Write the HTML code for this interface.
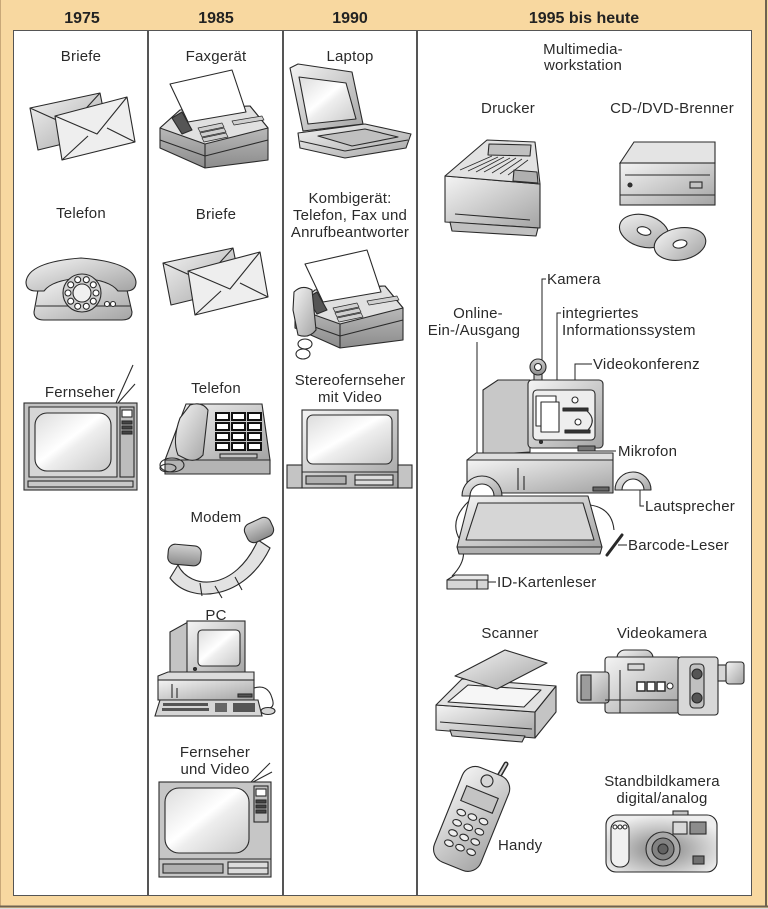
<!DOCTYPE html>
<html><head><meta charset="utf-8"><style>
html,body{margin:0;padding:0;background:#fff;}
svg{display:block;}
.t{font-family:"Liberation Sans",Arial,sans-serif;font-size:15px;fill:#2a2a2a;letter-spacing:0.2px;}
.h{font-family:"Liberation Sans",Arial,sans-serif;font-size:16px;font-weight:bold;fill:#222;}
</style></head><body>
<svg width="768" height="909" viewBox="0 0 768 909" xmlns="http://www.w3.org/2000/svg">
<defs>
<linearGradient id="m" x1="0" y1="0" x2="1" y2="1"><stop offset="0" stop-color="#f4f4f4"/><stop offset="1" stop-color="#a4a4a4"/></linearGradient>
<linearGradient id="d" x1="0" y1="0" x2="0" y2="1"><stop offset="0" stop-color="#d0d0d0"/><stop offset="1" stop-color="#8c8c8c"/></linearGradient>
<linearGradient id="sc" x1="0" y1="0" x2="1" y2="1"><stop offset="0" stop-color="#dcdcdc"/><stop offset=".45" stop-color="#fff"/><stop offset=".55" stop-color="#eeeeee"/><stop offset="1" stop-color="#c8c8c8"/></linearGradient>
<radialGradient id="cam" cx=".5" cy=".6" r=".6"><stop offset="0" stop-color="#808080"/><stop offset=".6" stop-color="#c4c4c4"/><stop offset="1" stop-color="#eeeeee"/></radialGradient>
</defs>

<!-- frame -->
<rect x="0" y="0" width="768" height="909" fill="#f8d8a0"/>
<line x1="0.5" y1="0" x2="0.5" y2="907" stroke="#c9a878" stroke-width="1"/>
<line x1="766" y1="0" x2="766" y2="907" stroke="#6e6250" stroke-width="2"/>
<line x1="0" y1="906.5" x2="768" y2="906.5" stroke="#6e6250" stroke-width="2"/>
<rect x="0" y="908" width="768" height="1" fill="#ddd"/>
<rect x="13.5" y="30.5" width="738" height="865" fill="#fff" stroke="#555" stroke-width="1"/>
<line x1="148" y1="30" x2="148" y2="896" stroke="#555" stroke-width="2"/>
<line x1="283" y1="30" x2="283" y2="896" stroke="#555" stroke-width="2"/>
<line x1="417" y1="30" x2="417" y2="896" stroke="#555" stroke-width="2"/>

<!-- headers -->
<text class="h" x="82" y="23" text-anchor="middle">1975</text>
<text class="h" x="216" y="23" text-anchor="middle">1985</text>
<text class="h" x="350" y="23" text-anchor="middle">1990</text>
<text class="h" x="584" y="23" text-anchor="middle">1995 bis heute</text>

<!-- labels -->
<text class="t" x="81" y="61" text-anchor="middle">Briefe</text>
<text class="t" x="81" y="218" text-anchor="middle">Telefon</text>
<text class="t" x="80" y="397" text-anchor="middle">Fernseher</text>

<text class="t" x="216" y="61" text-anchor="middle">Faxgerät</text>
<text class="t" x="216" y="219" text-anchor="middle">Briefe</text>
<text class="t" x="216" y="393" text-anchor="middle">Telefon</text>
<text class="t" x="216" y="522" text-anchor="middle">Modem</text>
<text class="t" x="216" y="620" text-anchor="middle">PC</text>
<text class="t" x="215" y="757" text-anchor="middle">Fernseher</text>
<text class="t" x="215" y="774" text-anchor="middle">und Video</text>

<text class="t" x="350" y="61" text-anchor="middle">Laptop</text>
<text class="t" x="350" y="203" text-anchor="middle">Kombigerät:</text>
<text class="t" x="350" y="220" text-anchor="middle">Telefon, Fax und</text>
<text class="t" x="350" y="237" text-anchor="middle">Anrufbeantworter</text>
<text class="t" x="350" y="385" text-anchor="middle">Stereofernseher</text>
<text class="t" x="350" y="402" text-anchor="middle">mit Video</text>

<text class="t" x="583" y="54" text-anchor="middle">Multimedia-</text>
<text class="t" x="583" y="70" text-anchor="middle">workstation</text>
<text class="t" x="508" y="113" text-anchor="middle">Drucker</text>
<text class="t" x="672" y="113" text-anchor="middle">CD-/DVD-Brenner</text>

<text class="t" x="547" y="284">Kamera</text>
<text class="t" x="478" y="318" text-anchor="middle">Online-</text>
<text class="t" x="474" y="335" text-anchor="middle">Ein-/Ausgang</text>
<text class="t" x="562" y="318">integriertes</text>
<text class="t" x="562" y="335">Informationssystem</text>
<text class="t" x="593" y="369">Videokonferenz</text>
<text class="t" x="618" y="456">Mikrofon</text>
<text class="t" x="645" y="511">Lautsprecher</text>
<text class="t" x="628" y="550">Barcode-Leser</text>
<text class="t" x="497" y="587">ID-Kartenleser</text>

<text class="t" x="510" y="638" text-anchor="middle">Scanner</text>
<text class="t" x="662" y="638" text-anchor="middle">Videokamera</text>
<text class="t" x="662" y="786" text-anchor="middle">Standbildkamera</text>
<text class="t" x="662" y="803" text-anchor="middle">digital/analog</text>
<text class="t" x="498" y="850">Handy</text>

<!-- leader lines -->
<g stroke="#222" stroke-width="1" fill="none">
<path d="M546,279 L542,279 L542,360"/>
<path d="M477,342 L477,455"/>
<path d="M561,313 L557,313 L557,408"/>
<path d="M592,364 L575,364 L575,393"/>
<path d="M595,451 L616,451"/>
<path d="M640,490 L640,506 L644,506"/>
<path d="M618,545 L627,545"/>
<path d="M488,582 L496,582"/>
</g>

<!-- envelopes col1 -->
<g id="env" stroke="#2a2a2a" stroke-width="1.1" stroke-linejoin="round">
<polygon fill="url(#m)" points="30,108 100,93 108,133 38,150"/>
<polyline fill="none" points="30,108 70,126 100,93"/>
<polygon fill="#eeeeee" points="55,116 127,97 135,142 62,160"/>
<polyline fill="none" points="55,116 97,134 127,97"/>
<line x1="62" y1="160" x2="88" y2="136"/>
<line x1="135" y1="142" x2="107" y2="128"/>
</g>
<use href="#env" transform="translate(133,155)"/>

<!-- rotary phone col1 -->
<g stroke="#2a2a2a" stroke-width="1.1">
<path fill="url(#m)" d="M38,290 Q40,280 58,279 L108,279 Q124,280 127,290 L132,312 Q132,320 122,320 L44,320 Q34,320 34,312 Z"/>
<path fill="none" d="M36,306 L130,306"/>
<path fill="url(#m)" d="M26,282 Q28,262 81,258 Q134,262 136,282 Q136,291 126,291 L118,291 Q110,280 81,278 Q52,280 44,291 L36,291 Q26,291 26,282 Z"/>
<circle cx="82" cy="293" r="19" fill="#cfcfcf"/>
<circle cx="82" cy="293" r="9" fill="#f0f0f0"/>
<g fill="#fff">
<circle cx="96" cy="293" r="3"/><circle cx="93.3" cy="301.2" r="3"/><circle cx="86.3" cy="306.3" r="3"/><circle cx="77.7" cy="306.3" r="3"/><circle cx="70.7" cy="301.2" r="3"/><circle cx="68" cy="293" r="3"/><circle cx="70.7" cy="284.8" r="3"/><circle cx="77.7" cy="279.7" r="3"/><circle cx="86.3" cy="279.7" r="3"/><circle cx="93.3" cy="284.8" r="3"/>
<circle cx="107" cy="304" r="2.5"/><circle cx="113" cy="304" r="2.5"/>
</g>
</g>

<!-- TV col1 -->
<g stroke="#2a2a2a" stroke-width="1.1">
<line x1="116" y1="403" x2="133" y2="365"/>
<line x1="118" y1="403" x2="135" y2="384"/>
<rect x="24" y="403" width="113" height="87" fill="#c2c2c2"/>
<polygon fill="#d6d6d6" points="29,407 117,407 117,477 29,477"/>
<rect x="35" y="413" width="76" height="58" rx="12" fill="url(#sc)"/>
<rect x="120" y="407" width="14" height="70" fill="#bdbdbd"/>
<rect x="122" y="410" width="10" height="7" fill="#fff"/>
<rect x="122" y="421" width="10" height="3" fill="#444"/>
<rect x="122" y="426" width="10" height="3" fill="#444"/>
<rect x="122" y="431" width="10" height="3" fill="#444"/>
<rect x="28" y="481" width="105" height="6" fill="#c8c8c8"/>
</g>

<!-- fax col2 -->
<g id="fax" stroke="#2a2a2a" stroke-width="1.1" stroke-linejoin="round">
<polygon fill="url(#d)" points="160,128 180,110 250,106 268,128 268,160 205,168 160,148"/>
<polygon fill="#e0e0e0" points="160,128 180,110 250,106 268,128 205,144"/>
<line x1="205" y1="144" x2="205" y2="168"/>
<polyline fill="none" points="160,140 205,156 268,140"/>
<polygon fill="#555" points="172,118 182,112 192,130 182,134"/>
<polygon fill="#fff" points="170,84 232,70 246,112 188,122"/>
<g fill="#cfcfcf" stroke-width=".7">
<polygon points="198,128 222,123 224,127 200,132"/>
<polygon points="200,133 224,128 226,132 202,137"/>
<polygon points="202,138 226,133 228,137 204,142"/>
<polygon points="232,121 262,116 264,120 234,125"/>
</g>
</g>

<!-- phone col2 -->
<g stroke="#2a2a2a" stroke-width="1.1">
<polygon fill="url(#m)" points="186,404 262,404 270,460 165,460"/>
<polygon fill="#b4b4b4" points="165,460 270,460 270,474 165,474"/>
<g fill="#fff" stroke="#111" stroke-width="2">
<rect x="216" y="413" width="13" height="7"/><rect x="232" y="413" width="13" height="7"/><rect x="248" y="413" width="13" height="7"/>
<rect x="216" y="423" width="13" height="7"/><rect x="232" y="423" width="13" height="7"/><rect x="248" y="423" width="13" height="7"/>
<rect x="216" y="433" width="13" height="7"/><rect x="232" y="433" width="13" height="7"/><rect x="248" y="433" width="13" height="7"/>
<rect x="216" y="443" width="13" height="7"/><rect x="232" y="443" width="13" height="7"/><rect x="248" y="443" width="13" height="7"/>
</g>
<rect x="220" y="454" width="37" height="4" fill="#c4c4c4"/>
<path fill="url(#m)" d="M190,405 Q202,401 208,410 L203,455 Q196,463 186,459 L178,455 Q172,440 180,418 Z"/>
<ellipse cx="172" cy="465" rx="12" ry="7" fill="none"/>
<ellipse cx="168" cy="468" rx="8" ry="4" fill="none"/>
</g>

<!-- modem col2 -->
<g stroke="#2a2a2a" stroke-width="1.1">
<path fill="#e2e2e2" d="M178,565 C190,590 235,592 258,540 L270,548 C245,600 190,605 170,578 Z"/>
<path fill="none" d="M215,586 L222,598 M200,583 L202,596 M235,577 L242,590"/>
<rect x="168" y="545" width="33" height="20" rx="7" fill="url(#d)" transform="rotate(5 184 555)"/>
<rect x="245" y="520" width="28" height="20" rx="7" fill="url(#d)" transform="rotate(-25 259 530)"/>
</g>

<!-- PC col2 -->
<g stroke="#2a2a2a" stroke-width="1.1">
<polygon fill="#c4c4c4" points="170,632 188,622 188,675 170,677"/>
<rect x="187" y="621" width="58" height="53" fill="url(#m)"/>
<rect x="198" y="630" width="42" height="36" rx="4" fill="url(#sc)"/>
<circle cx="195" cy="669" r="1.5" fill="#333"/>
<polygon fill="#dcdcdc" points="158,676 168,672 254,672 254,680 158,681"/>
<rect x="158" y="680" width="96" height="20" fill="url(#m)"/>
<line x1="172" y1="684" x2="172" y2="698"/><line x1="177" y1="688" x2="177" y2="698"/>
<rect x="238" y="694" width="14" height="3" fill="#555"/>
<polygon fill="#d6d6d6" points="160,700 258,700 262,716 155,716"/>
<rect x="163" y="703" width="45" height="3" fill="#555" stroke="none"/>
<rect x="162" y="708" width="47" height="3" fill="#555" stroke="none"/>
<rect x="215" y="703" width="12" height="9" fill="#666" stroke="none"/>
<rect x="233" y="703" width="22" height="9" fill="#555" stroke="none"/>
<path fill="none" d="M254,688 Q268,684 272,698 Q275,706 270,708"/>
<ellipse cx="268" cy="711" rx="7" ry="3.5" fill="#d6d6d6"/>
</g>

<!-- TV col2 -->
<g stroke="#2a2a2a" stroke-width="1.1">
<line x1="251" y1="782" x2="270" y2="763"/>
<line x1="253" y1="782" x2="272" y2="772"/>
<rect x="159" y="782" width="112" height="95" fill="#c6c6c6"/>
<rect x="165" y="788" width="84" height="65" rx="14" fill="url(#sc)"/>
<rect x="254" y="786" width="14" height="36" fill="#bdbdbd"/>
<rect x="256" y="789" width="10" height="7" fill="#fff"/>
<rect x="256" y="800" width="10" height="3" fill="#444"/>
<rect x="256" y="805" width="10" height="3" fill="#444"/>
<rect x="256" y="810" width="10" height="3" fill="#444"/>
<line x1="159" y1="859" x2="271" y2="859"/>
<rect x="163" y="864" width="60" height="9" fill="#b0b0b0"/>
<rect x="228" y="862" width="40" height="12" fill="#dcdcdc"/>
<line x1="228" y1="868" x2="268" y2="868"/>
</g>

<!-- laptop col3 -->
<g stroke="#2a2a2a" stroke-width="1.1" stroke-linejoin="round">
<polygon fill="url(#m)" points="290,68 298,64 352,72 363,124 303,131"/>
<polygon fill="url(#sc)" points="299,77 346,83 356,119 308,124"/>
<polygon fill="url(#m)" points="298,133 365,124 411,134 406,148 345,158 300,148"/>
<polygon fill="#c0c0c0" points="318,136 365,129 398,137 352,146"/>
<line x1="300" y1="141" x2="345" y2="151"/>
<line x1="345" y1="151" x2="408" y2="140"/>
</g>

<!-- kombi col3 -->
<use href="#fax" transform="translate(135,180)"/>
<g stroke="#2a2a2a" stroke-width="1.1">
<path fill="url(#m)" d="M294,292 Q302,284 312,290 L316,330 Q309,339 298,335 L293,310 Z"/>
<ellipse cx="305" cy="344" rx="7" ry="5" fill="none"/>
<ellipse cx="303" cy="354" rx="7" ry="5" fill="none"/>
</g>

<!-- stereo TV col3 -->
<g stroke="#2a2a2a" stroke-width="1.1">
<rect x="302" y="410" width="96" height="78" fill="url(#m)"/>
<rect x="307" y="415" width="85" height="49" rx="6" fill="url(#sc)"/>
<rect x="287" y="465" width="15" height="23" fill="#c4c4c4"/>
<rect x="398" y="465" width="14" height="23" fill="#c4c4c4"/>
<line x1="302" y1="472" x2="398" y2="472"/>
<rect x="306" y="476" width="40" height="8" fill="#b0b0b0"/>
<rect x="355" y="475" width="38" height="10" fill="#dcdcdc"/>
<line x1="355" y1="480" x2="393" y2="480"/>
</g>

<!-- printer -->
<g stroke="#2a2a2a" stroke-width="1.1" stroke-linejoin="round">
<polygon fill="url(#m)" points="445,176 540,184 540,228 445,222"/>
<polygon fill="#e2e2e2" points="445,176 487,140 535,142 540,184"/>
<polygon fill="#c0c0c0" points="489,144 531,145 530,156 488,155"/>
<g fill="none" stroke-width=".8">
<line x1="460" y1="170" x2="492" y2="156"/><line x1="468" y1="171" x2="498" y2="157"/><line x1="476" y1="172" x2="504" y2="157"/><line x1="484" y1="172" x2="510" y2="158"/><line x1="492" y1="173" x2="516" y2="158"/><line x1="500" y1="174" x2="522" y2="159"/><line x1="508" y1="175" x2="528" y2="160"/>
</g>
<polygon fill="#b0b0b0" points="514,170 537,172 538,183 513,181"/>
<polygon fill="#c0c0c0" points="450,222 538,228 536,236 452,231"/>
<line x1="455" y1="214" x2="530" y2="220"/>
</g>

<!-- CD burner -->
<g stroke="#2a2a2a" stroke-width="1.1">
<polygon fill="#e4e4e4" points="620,163 634,142 715,142 715,163"/>
<rect x="620" y="163" width="95" height="42" fill="url(#m)"/>
<line x1="625" y1="175" x2="710" y2="175"/>
<line x1="620" y1="195" x2="715" y2="195"/>
<rect x="690" y="182" width="12" height="6" fill="#c4c4c4"/>
<circle cx="630" cy="185" r="2" fill="#333"/>
<ellipse cx="644" cy="231" rx="25" ry="16" fill="url(#m)" transform="rotate(15 644 231)"/>
<ellipse cx="644" cy="231" rx="7" ry="4" fill="#fff" transform="rotate(15 644 231)"/>
<ellipse cx="680" cy="244" rx="26" ry="16" fill="url(#m)" transform="rotate(-10 680 244)"/>
<ellipse cx="680" cy="244" rx="7" ry="4" fill="#fff" transform="rotate(-10 680 244)"/>
</g>

<!-- workstation -->
<g stroke="#2a2a2a" stroke-width="1.1" stroke-linejoin="round">
<path fill="none" d="M470,500 Q448,520 460,540 Q470,558 452,576"/>
<path fill="none" d="M590,505 Q612,508 614,530"/>
<polygon fill="#c8c8c8" points="483,390 498,380 530,380 530,452 483,455"/>
<rect x="528" y="380" width="75" height="68" rx="4" fill="url(#m)"/>
<rect x="533" y="390" width="62" height="50" rx="4" fill="#eeeeee"/>
<rect x="536" y="396" width="20" height="30" fill="#fff"/>
<rect x="541" y="402" width="18" height="30" fill="#fff"/>
<rect x="563" y="408" width="25" height="3" fill="#333"/>
<rect x="565" y="430" width="25" height="3" fill="#333"/>
<circle cx="575" cy="400" r="3" fill="#fff"/>
<circle cx="578" cy="422" r="3" fill="#fff"/>
<path fill="none" d="M587,411 Q597,420 588,430"/>
<circle cx="541" cy="442" r="1.5" fill="#333"/>
<rect x="578" y="446" width="17" height="5" fill="#777"/>
<rect x="534" y="373" width="8" height="7" fill="#c4c4c4"/>
<circle cx="538" cy="367" r="8" fill="url(#d)"/>
<circle cx="538" cy="367" r="3.5" fill="#fff"/>
<polygon fill="#dedede" points="467,460 476,453 613,453 613,460"/>
<rect x="467" y="460" width="146" height="33" fill="url(#m)"/>
<line x1="518" y1="468" x2="518" y2="490"/>
<line x1="524" y1="476" x2="524" y2="490"/>
<rect x="593" y="487" width="16" height="4" fill="#666"/>
<path fill="url(#m)" d="M462,496 A20,20 0 0 1 502,496 Z"/>
<path fill="#fff" d="M470,496 A12,12 0 0 1 494,496 Z"/>
<path fill="url(#m)" d="M615,490 A18,18 0 0 1 651,490 Z"/>
<path fill="#fff" d="M622,490 A11,11 0 0 1 644,490 Z"/>
<polygon fill="url(#m)" points="470,496 588,496 602,547 457,547"/>
<polygon fill="#d6d6d6" points="478,503 583,503 594,540 466,540"/>
<polygon fill="#b0b0b0" points="457,547 602,547 600,554 459,554"/>
<polygon fill="#e8e8e8" points="447,580 455,575 488,575 488,580"/>
<rect x="447" y="580" width="41" height="9" fill="#d6d6d6"/>
<line x1="477" y1="580" x2="477" y2="589"/>
<line x1="607" y1="555" x2="622" y2="535" stroke-width="3" stroke-linecap="round"/>
</g>

<!-- scanner -->
<g stroke="#2a2a2a" stroke-width="1.1" stroke-linejoin="round">
<polygon fill="url(#m)" points="436,705 535,712 535,738 436,730"/>
<polygon fill="#c4c4c4" points="535,712 556,686 556,712 535,738"/>
<polygon fill="#e2e2e2" points="436,705 462,679 556,686 535,712"/>
<polygon fill="#f6f6f6" points="448,702 468,685 541,690 524,707"/>
<polygon fill="url(#m)" points="455,676 505,650 547,663 497,689"/>
<line x1="440" y1="722" x2="532" y2="729"/>
<polygon fill="#c0c0c0" points="450,730 525,736 522,742 452,736"/>
</g>

<!-- camcorder -->
<g stroke="#2a2a2a" stroke-width="1.1">
<rect x="617" y="650" width="36" height="17" rx="8" fill="url(#m)"/>
<rect x="605" y="657" width="75" height="56" rx="3" fill="url(#m)"/>
<rect x="678" y="657" width="40" height="58" rx="3" fill="#d8d8d8"/>
<rect x="690" y="664" width="14" height="44" rx="4" fill="#c0c0c0"/>
<circle cx="697" cy="674" r="5" fill="#555"/>
<circle cx="697" cy="698" r="5" fill="#555"/>
<rect x="718" y="665" width="8" height="16" fill="#d6d6d6"/>
<rect x="726" y="662" width="18" height="22" rx="3" fill="url(#m)"/>
<rect x="577" y="672" width="32" height="31" rx="3" fill="url(#m)"/>
<rect x="581" y="675" width="10" height="25" fill="#9c9c9c"/>
<rect x="628" y="664" width="16" height="6" fill="#d6d6d6"/>
<g fill="#fff" stroke-width="1.5">
<rect x="637" y="682" width="8" height="9"/><rect x="647" y="682" width="8" height="9"/><rect x="657" y="682" width="8" height="9"/>
</g>
<circle cx="670" cy="686" r="3" fill="#fff"/>
<line x1="605" y1="700" x2="678" y2="700"/>
<line x1="620" y1="670" x2="620" y2="713"/>
</g>

<!-- handy -->
<line x1="495" y1="783" x2="506" y2="764" stroke="#2a2a2a" stroke-width="5" stroke-linecap="round"/>
<line x1="495" y1="783" x2="506" y2="764" stroke="#d6d6d6" stroke-width="2" stroke-linecap="round"/>
<g stroke="#2a2a2a" stroke-width="1.1" transform="rotate(22 472 818)">
<rect x="447" y="768" width="50" height="102" rx="14" fill="url(#m)"/>
<rect x="455" y="790" width="34" height="16" fill="#c4c4c4"/>
<circle cx="472" cy="778" r="6" fill="#d6d6d6"/>
<g fill="#eeeeee">
<ellipse cx="460" cy="817" rx="4.5" ry="3"/><ellipse cx="472" cy="817" rx="4.5" ry="3"/><ellipse cx="484" cy="817" rx="4.5" ry="3"/>
<ellipse cx="460" cy="828" rx="4.5" ry="3"/><ellipse cx="472" cy="828" rx="4.5" ry="3"/><ellipse cx="484" cy="828" rx="4.5" ry="3"/>
<ellipse cx="460" cy="839" rx="4.5" ry="3"/><ellipse cx="472" cy="839" rx="4.5" ry="3"/><ellipse cx="484" cy="839" rx="4.5" ry="3"/>
<ellipse cx="460" cy="850" rx="4.5" ry="3"/><ellipse cx="472" cy="850" rx="4.5" ry="3"/><ellipse cx="484" cy="850" rx="4.5" ry="3"/>
</g>
</g>

<!-- still camera -->
<g stroke="#2a2a2a" stroke-width="1.1">
<rect x="673" y="811" width="15" height="5" fill="#c4c4c4"/>
<rect x="606" y="815" width="111" height="57" rx="10" fill="url(#cam)"/>
<rect x="611" y="821" width="18" height="46" rx="8" fill="#f0f0f0"/>
<circle cx="615" cy="827" r="2" fill="#fff"/><circle cx="620" cy="827" r="2" fill="#fff"/><circle cx="625" cy="827" r="2" fill="#fff"/>
<rect x="673" y="822" width="14" height="12" fill="#d8d8d8"/>
<rect x="690" y="822" width="16" height="12" fill="#8c8c8c"/>
<circle cx="663" cy="849" r="17" fill="#a8a8a8"/>
<circle cx="663" cy="849" r="11" fill="#828282"/>
<circle cx="663" cy="849" r="5" fill="#626262"/>
<rect x="693" y="856" width="11" height="8" fill="#707070"/>
</g>
</svg>
</body></html>
